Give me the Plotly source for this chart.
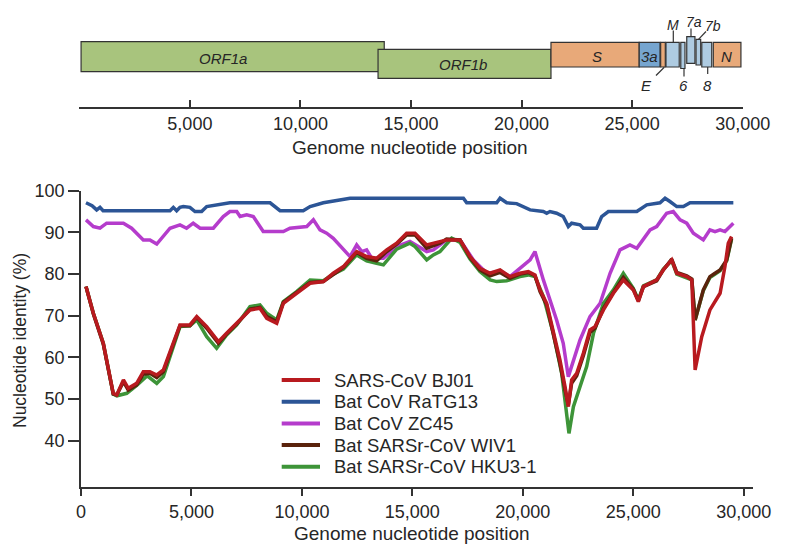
import plotly.graph_objects as go

W, H = 787, 552
OFF = 8  # the page body adds an 8px margin around the figure
FONT = "Liberation Sans, Arial, Helvetica, sans-serif"
INK = "#262626"

# ---- genome map (top panel) ----
gene_names = ["ORF1a", "ORF1b", "S", "3a", "E", "M", "6", "7a", "7b", "8", "N"]
gene_start = [80, 13510, 21330, 25320, 26290, 26530, 27200, 27470, 27890, 28150, 28670]
gene_end = [13790, 21330, 25320, 26260, 26500, 27130, 27390, 27840, 28100, 28600, 29920]

# ---- nucleotide identity curves (bottom panel) ----
bj01_pos = [226, 560, 1010, 1240, 1460, 1620, 1920, 2140, 2520, 2820, 3120, 3430, 3730, 3950,
            4180, 4480, 4930, 5240, 5690, 6220, 6590, 7050, 7650, 8100, 8410, 8860, 9160, 9760,
            10370, 10970, 11420, 11880, 12480, 12930, 13380, 13840, 14290, 14740, 15120, 15650,
            16250, 16550, 17160, 17610, 18060, 18520, 18970, 19420, 19870, 20250, 20550, 20780,
            21080, 21380, 21680, 21910, 22060, 22210, 22440, 22740, 23040, 23270, 23650, 24100,
            24550, 25000, 25230, 25460, 25760, 26060, 26360, 26740, 26970, 27420, 27650, 27800,
            28100, 28470, 28930, 29150, 29300, 29450]
bj01_id = [77.0, 70.6, 63.4, 57.0, 51.4, 51.0, 54.6, 52.6, 53.8, 56.6, 56.6, 55.8, 57.0, 60.2,
           63.4, 67.8, 67.8, 69.8, 67.4, 63.8, 65.8, 68.2, 71.4, 71.8, 69.4, 68.2, 73.0, 75.4,
           77.8, 78.2, 80.2, 81.8, 85.4, 84.2, 83.8, 85.8, 87.4, 89.8, 89.8, 87.0,
           87.8, 88.2, 88.2, 84.2, 81.4, 80.2, 81.0, 79.4, 80.2, 80.6, 79.8, 76.2,
           73.0, 66.6, 59.4, 53.0, 48.2, 54.6, 56.2, 61.0, 66.6, 67.4, 71.4, 75.4,
           78.6, 76.2, 73.4, 77.0, 77.8, 78.6, 81.0, 83.4, 80.2, 79.4, 78.6, 57.0,
           65.0, 71.4, 75.4, 81.8, 87.4, 89.0]

ratg13_pos = [226, 500, 710, 860, 1000, 4030, 4180, 4330, 4480, 4630, 4930, 5160, 5460, 5690,
              6740, 8560, 9010, 10060, 10370, 10970, 12180, 17310, 17460, 18820, 18970, 19270,
              19720, 20330, 20930, 21080, 21230, 21530, 21830, 22060, 22210, 22590, 22740, 23340,
              23570, 23870, 25160, 25610, 26210, 26440, 26660, 26970, 27270, 27570, 29530]
ratg13_id = [97.1, 96.4, 95.4, 96.0, 95.2, 95.2, 96.0, 95.2, 96.0, 96.2, 96.0, 95.0, 95.0, 96.2,
             97.1, 97.1, 95.2, 95.2, 96.2, 97.1, 98.2, 98.2, 97.1, 97.1, 98.2, 97.1,
             96.9, 95.4, 95.0, 94.6, 95.0, 94.6, 93.8, 91.4, 92.2, 91.8, 91.0, 91.0,
             93.8, 95.0, 95.0, 96.6, 97.1, 98.2, 97.4, 96.2, 96.2, 97.1, 97.1]

zc45_pos = [226, 560, 860, 1160, 1920, 2290, 2820, 3120, 3430, 4030, 4480, 4780, 5080, 5390,
            5990, 6440, 6740, 7050, 7200, 7500, 7800, 8250, 9160, 9460, 10220, 10520, 10820,
            11120, 11420, 11880, 12180, 12480, 12710, 12930, 13160, 13690, 14290, 14890, 15650,
            15950, 16550, 17160, 17760, 18370, 18970, 19420, 19870, 20330, 20550, 20930, 21530,
            21830, 22060, 22290, 22590, 23040, 23500, 23950, 24400, 24850, 25160, 25760, 26060,
            26510, 26810, 27120, 27420, 27720, 28170, 28470, 28700, 28930, 29150, 29530]
zc45_id = [93.0, 91.4, 91.0, 92.2, 92.2, 91.0, 88.2, 88.2, 87.2, 91.0, 91.8, 91.0, 92.2, 91.0,
           91.0, 93.8, 95.0, 95.0, 93.8, 94.2, 93.8, 90.2, 90.2, 91.0, 91.4, 93.0, 90.6,
           89.8, 88.6, 85.8, 84.2, 87.0, 85.4, 85.8, 83.8, 83.8, 86.6, 87.8, 85.4,
           85.8, 88.2, 88.2, 83.4, 80.2, 80.6, 79.4, 81.4, 83.4, 85.4, 78.6, 69.0,
           63.4, 55.4, 59.4, 64.2, 69.8, 73.0, 80.2, 85.8, 87.0, 86.2, 90.6, 91.4,
           94.6, 95.0, 93.0, 92.2, 89.8, 88.2, 90.6, 90.2, 90.6, 90.2, 92.2]

wiv1_pos = [226, 560, 1010, 1240, 1460, 1620, 1920, 2140, 2520, 2820, 3120, 3430, 3730, 3950,
            4180, 4480, 4930, 5240, 5690, 6220, 6590, 7050, 7650, 8100, 8410, 8860, 9160, 9760,
            10370, 10970, 11420, 11880, 12480, 12930, 13380, 13840, 14290, 14740, 15120, 15650,
            16250, 16550, 17160, 17610, 18060, 18520, 18970, 19420, 19870, 20250, 20550, 20780,
            21080, 21380, 21680, 21910, 22060, 22210, 22440, 22740, 23040, 23270, 23650, 24100,
            24550, 25000, 25230, 25460, 25760, 26060, 26360, 26740, 26970, 27420, 27650, 27800,
            28170, 28470, 28700, 28930, 29230, 29450]
wiv1_id = [77.0, 70.4, 63.2, 56.8, 51.2, 51.0, 54.2, 52.2, 53.4, 56.0, 56.2, 55.2, 56.6, 59.8,
           63.2, 67.6, 67.6, 69.6, 67.0, 63.4, 65.6, 68.0, 71.6, 72.0, 69.8, 68.6, 73.2, 75.6,
           78.0, 78.2, 80.0, 81.6, 85.2, 83.8, 83.2, 85.4, 87.2, 89.4, 89.4, 86.2,
           87.4, 88.4, 88.2, 84.0, 81.0, 79.6, 80.4, 79.0, 80.0, 80.4, 79.6, 75.8,
           72.6, 66.0, 58.6, 52.2, 48.6, 53.8, 55.6, 60.4, 66.0, 67.0, 71.8, 75.6,
           79.2, 76.4, 73.6, 77.0, 77.6, 78.4, 81.0, 83.6, 80.4, 79.6, 78.8, 69.0,
           76.2, 79.4, 80.2, 81.0, 83.4, 88.6]

hku3_pos = [226, 560, 1010, 1240, 1460, 1620, 2070, 2520, 3000, 3430, 3730, 3950, 4480, 4930,
            5240, 5690, 6140, 6590, 7050, 7650, 8100, 8410, 8860, 9160, 9760, 10370, 10970,
            11420, 11880, 12480, 12930, 13380, 13690, 14290, 14890, 15120, 15650, 15950, 16250,
            16780, 17160, 17610, 18060, 18520, 18820, 19270, 19870, 20250, 20550, 20930, 21380,
            21760, 21990, 22090, 22290, 22590, 22890, 23200, 23650, 24100, 24550, 25000, 25230,
            25460, 25760, 26060, 26360, 26740, 26970, 27420, 27650, 27800, 28170, 28470, 28700,
            28930, 29230, 29450]
hku3_id = [77.0, 70.6, 63.4, 57.0, 51.2, 50.8, 51.4, 53.3, 55.6, 53.8, 55.4, 58.9, 67.4, 67.6,
           69.0, 65.0, 62.2, 65.4, 67.8, 72.2, 72.6, 70.6, 69.0, 73.4, 75.8, 78.6, 78.4,
           80.0, 81.2, 84.6, 83.2, 82.6, 82.2, 86.0, 87.4, 86.6, 83.4, 84.6, 85.4,
           88.6, 87.6, 83.6, 80.6, 78.6, 78.2, 78.4, 79.4, 79.8, 79.4, 74.6, 65.8,
           56.2, 46.6, 41.8, 48.2, 53.0, 57.8, 65.8, 73.0, 76.2, 80.2, 76.6, 73.8,
           77.2, 77.8, 78.6, 81.2, 83.2, 80.0, 79.2, 78.6, 69.0,
           76.0, 79.2, 80.0, 80.8, 83.2, 88.4]

series = [
    ("Bat CoV RaTG13", ratg13_pos, ratg13_id, "#2c5596"),
    ("Bat CoV ZC45", zc45_pos, zc45_id, "#b53ccc"),
    ("Bat SARSr-CoV HKU3-1", hku3_pos, hku3_id, "#3d9438"),
    ("Bat SARSr-CoV WIV1", wiv1_pos, wiv1_id, "#5a230c"),
    ("SARS-CoV BJ01", bj01_pos, bj01_id, "#b81a1f"),
]
legend_order = ["SARS-CoV BJ01", "Bat CoV RaTG13", "Bat CoV ZC45",
                "Bat SARSr-CoV WIV1", "Bat SARSr-CoV HKU3-1"]

# styling of the gene boxes: (top, bottom) in pixel rows of the top panel
ORF_GREEN, ORANGE, BLUE, LIGHT_BLUE = "#a8c47d", "#e8a979", "#76a5cf", "#aecbe1"
gene_style = {
    "ORF1a": (41.7, 71.7, ORF_GREEN), "ORF1b": (49.3, 78.3, ORF_GREEN),
    "S": (42.3, 67.0, ORANGE), "3a": (42.3, 67.0, BLUE), "E": (42.3, 67.0, ORANGE),
    "M": (42.3, 67.0, LIGHT_BLUE), "6": (42.3, 68.5, LIGHT_BLUE),
    "7a": (36.7, 63.3, LIGHT_BLUE), "7b": (39.3, 65.0, LIGHT_BLUE),
    "8": (42.3, 67.0, LIGHT_BLUE), "N": (42.3, 67.0, ORANGE),
}


def px_x(px):
    # image column -> paper x
    return (px - OFF) / W


def px_y(py):
    # image row -> paper y
    return 1 - (py - OFF) / H


def gx(px):
    # image column -> genome position on the top axis
    return (px - 79.3) * 30000 / 663.4


# label anchor (image x, image y, size) for each gene
label_pos = {
    "ORF1a": (223.3, 58.5, 15), "ORF1b": (463, 64, 15), "S": (596.7, 56, 15),
    "3a": (649.5, 56, 15), "N": (726, 56, 15), "E": (646, 85, 15),
    "M": (673.3, 24.5, 14), "6": (683.5, 85, 15), "7a": (694, 21.5, 14),
    "7b": (712.5, 25.5, 14), "8": (707.5, 85, 15),
}
leaders = [(664.3, 67.3, 656, 75.5), (673.3, 30.5, 673.3, 42.3), (684, 68.5, 684, 76.5),
           (691, 28.5, 691, 36.7), (698.5, 39.3, 706, 31.5), (707.7, 67, 707.7, 74)]

fig = go.Figure()

for name, xs, ys, color in series:
    fig.add_trace(go.Scatter(x=xs, y=ys, mode="lines", name=name, showlegend=False,
                             line=dict(color=color, width=3.5), xaxis="x", yaxis="y"))

# invisible trace so the top axes get drawn
fig.add_trace(go.Scatter(x=[0, 30000], y=[100, 100], mode="lines", line=dict(width=0),
                         showlegend=False, hoverinfo="skip", xaxis="x2", yaxis="y2"))

shapes = []
annotations = []
for name, s, e in zip(gene_names, gene_start, gene_end):
    top, bottom, color = gene_style[name]
    shapes.append(dict(type="rect", xref="x2", yref="y2", x0=s, x1=e, y0=top, y1=bottom,
                       fillcolor=color, line=dict(color="#333333", width=1.2), layer="above"))
for name in gene_names:
    px, py, size = label_pos[name]
    annotations.append(dict(x=gx(px), y=py, xref="x2", yref="y2", text="<i>%s</i>" % name,
                            xanchor="center", yanchor="middle", showarrow=False,
                            font=dict(size=size, color=INK, family=FONT)))
for x0, y0, x1, y1 in leaders:
    shapes.append(dict(type="line", xref="x2", yref="y2", x0=gx(x0), y0=y0, x1=gx(x1), y1=y1,
                       line=dict(color="#333333", width=1.2)))

# legend drawn by hand to match the tight row spacing
colors = {n: c for n, _, _, c in series}
for i, name in enumerate(legend_order):
    yy = px_y(380 + i * 21.7)
    shapes.append(dict(type="line", xref="paper", yref="paper", x0=px_x(281.7), x1=px_x(320),
                       y0=yy, y1=yy, line=dict(color=colors[name], width=4)))
    annotations.append(dict(x=px_x(332), y=yy, xref="paper", yref="paper", text=name,
                            xanchor="left", yanchor="middle", showarrow=False,
                            font=dict(size=18.5, color=INK, family=FONT)))

# axis titles
annotations.append(dict(x=px_x(410), y=px_y(147), xref="paper", yref="paper",
                        text="Genome nucleotide position", xanchor="center", yanchor="middle",
                        showarrow=False, font=dict(size=19, color=INK, family=FONT)))
annotations.append(dict(x=px_x(412), y=px_y(533), xref="paper", yref="paper",
                        text="Genome nucleotide position", xanchor="center", yanchor="middle",
                        showarrow=False, font=dict(size=19, color=INK, family=FONT)))
annotations.append(dict(x=0, y=px_y(341), xref="paper", yref="paper",
                        text="Nucleotide identity (%)", textangle=-90, xanchor="left",
                        yanchor="middle", showarrow=False,
                        font=dict(size=17.5, color=INK, family=FONT)))

ticks = [0, 5000, 10000, 15000, 20000, 25000, 30000]
tick_text = ["{:,}".format(t) for t in ticks]
axis_line = dict(showline=True, linecolor="#333333", linewidth=1.5, showgrid=False,
                 zeroline=False, tickcolor="#333333", tickwidth=1.5, tickfont=dict(size=18))

fig.update_layout(
    width=W, height=H, autosize=False,
    margin=dict(l=0, r=0, t=0, b=0, autoexpand=False),
    paper_bgcolor="white", plot_bgcolor="white", showlegend=False,
    font=dict(family=FONT, color=INK, size=18),
    shapes=shapes, annotations=annotations,
    xaxis=dict(domain=[px_x(81), px_x(753)], range=[0, 30420], anchor="y",
               tickvals=ticks, ticktext=tick_text, ticks="outside", ticklen=8, **axis_line),
    yaxis=dict(domain=[px_y(486.7), px_y(190.7)], range=[29, 100], anchor="x",
               tickvals=[40, 50, 60, 70, 80, 90, 100], ticks="outside", ticklen=11,
               **axis_line),
    xaxis2=dict(domain=[px_x(79.3), px_x(742.7)], range=[0, 30000], anchor="y2",
                tickvals=ticks, ticktext=[""] + tick_text[1:], ticks="inside", ticklen=7,
                **axis_line),
    yaxis2=dict(domain=[px_y(106.7), 1], range=[106.7, OFF], anchor="x2", visible=False),
)

fig.write_html("out.html")
